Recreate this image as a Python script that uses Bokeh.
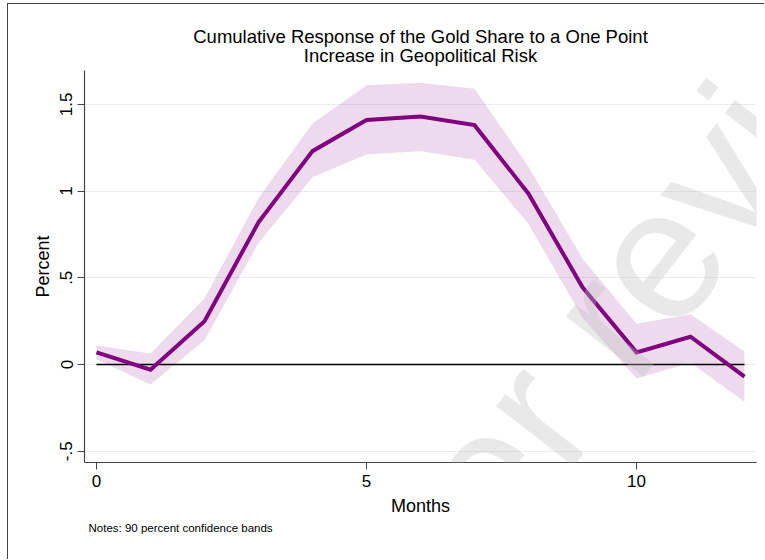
from bokeh.plotting import figure
from bokeh.models import Range1d, FixedTicker, Title, Label
from bokeh.embed import file_html
from bokeh.resources import INLINE

# ---- data ----
months = [0, 1, 2, 3, 4, 5, 6, 7, 8, 9, 10, 11, 12]
response = [0.07, -0.03, 0.25, 0.82, 1.23, 1.41, 1.43, 1.38, 0.985, 0.445, 0.07, 0.16, -0.07]
upper = [0.11, 0.063, 0.38, 0.96, 1.39, 1.61, 1.625, 1.59, 1.14, 0.61, 0.235, 0.29, 0.075]
lower = [0.03, -0.115, 0.14, 0.70, 1.08, 1.21, 1.23, 1.18, 0.81, 0.27, -0.08, 0.01, -0.215]

x_ticks = [0, 5, 10]
y_ticks = [-0.5, 0, 0.5, 1, 1.5]
y_tick_labels = {-0.5: "-.5", 0: "0", 0.5: ".5", 1: "1", 1.5: "1.5"}

title_line1 = "Cumulative Response of the Gold Share to a One Point"
title_line2 = "Increase in Geopolitical Risk"
note_text = "Notes: 90 percent confidence bands"
watermark = "Peer review"

FONT = "Liberation Sans"
PURPLE = "#800080"

p = figure(width=757, height=556, output_backend="svg", toolbar_location=None,
           x_range=Range1d(-0.222, 12.222), y_range=Range1d(-0.565, 1.695),
           min_border_left=76, min_border_right=9, min_border_top=66, min_border_bottom=98)
p.title.visible = False
p.outline_line_color = None
p.background_fill_color = "white"
p.border_fill_color = "white"

# confidence band
p.varea(x=months, y1=lower, y2=upper, fill_color=PURPLE, fill_alpha=0.14)
# zero line over data span
p.line(x=[months[0], months[-1]], y=[0, 0], line_color="black", line_width=1.3)
# response line
p.line(x=months, y=response, line_color=PURPLE, line_width=4, line_join="miter")

# axes
p.xaxis.ticker = FixedTicker(ticks=x_ticks)
p.yaxis.ticker = FixedTicker(ticks=y_ticks)
p.yaxis.major_label_overrides = y_tick_labels
p.yaxis.major_label_orientation = "vertical"
for ax in (p.xaxis, p.yaxis):
    ax.axis_line_color = "#444444"
    ax.axis_line_width = 1.2
    ax.major_tick_line_color = "#444444"
    ax.major_tick_in = 0
    ax.major_tick_out = 7
    ax.minor_tick_line_color = None
    ax.major_label_text_font = FONT
    ax.major_label_text_font_size = "17px"
    ax.major_label_text_color = "black"
    ax.axis_label_text_font = FONT
    ax.axis_label_text_font_size = "18px"
    ax.axis_label_text_font_style = "normal"
    ax.axis_label_text_color = "black"
p.xaxis.axis_label = "Months"
p.yaxis.axis_label = "Percent"
p.xaxis.major_label_standoff = 5
p.xaxis.axis_label_standoff = 6
p.yaxis.major_label_standoff = 5
p.yaxis.axis_label_standoff = 5

p.xgrid.grid_line_color = None
p.ygrid.grid_line_color = "#e4eef0"
p.ygrid.grid_line_width = 1

# title (two centred lines)
p.add_layout(Title(text=title_line2, align="center", text_font=FONT,
                   text_font_size="18.5px", text_line_height=0.82,
                   text_font_style="normal", text_color="black", standoff=10), "above")
p.add_layout(Title(text=title_line1, align="center", text_font=FONT,
                   text_font_size="18.5px", text_line_height=0.82,
                   text_font_style="normal", text_color="black", standoff=-18), "above")
p.add_layout(Title(text=note_text, align="left", offset=4, text_font=FONT, text_font_size="11.5px",
                   text_font_style="normal", text_color="black", standoff=2), "below")

# watermark
p.add_layout(Label(x=9.574, y=0.311, text=watermark, angle=0.9076, text_align="center",
                   text_baseline="alphabetic", text_font=FONT, text_font_size="186px",
                   text_color="#c0c0c0", text_alpha=0.35))

p.styles = {"margin-left": "7px", "margin-top": "3px",
            "border-left": "1px solid #444", "border-top": "1px solid #444"}

open("out.html", "w").write(file_html(p, INLINE))
